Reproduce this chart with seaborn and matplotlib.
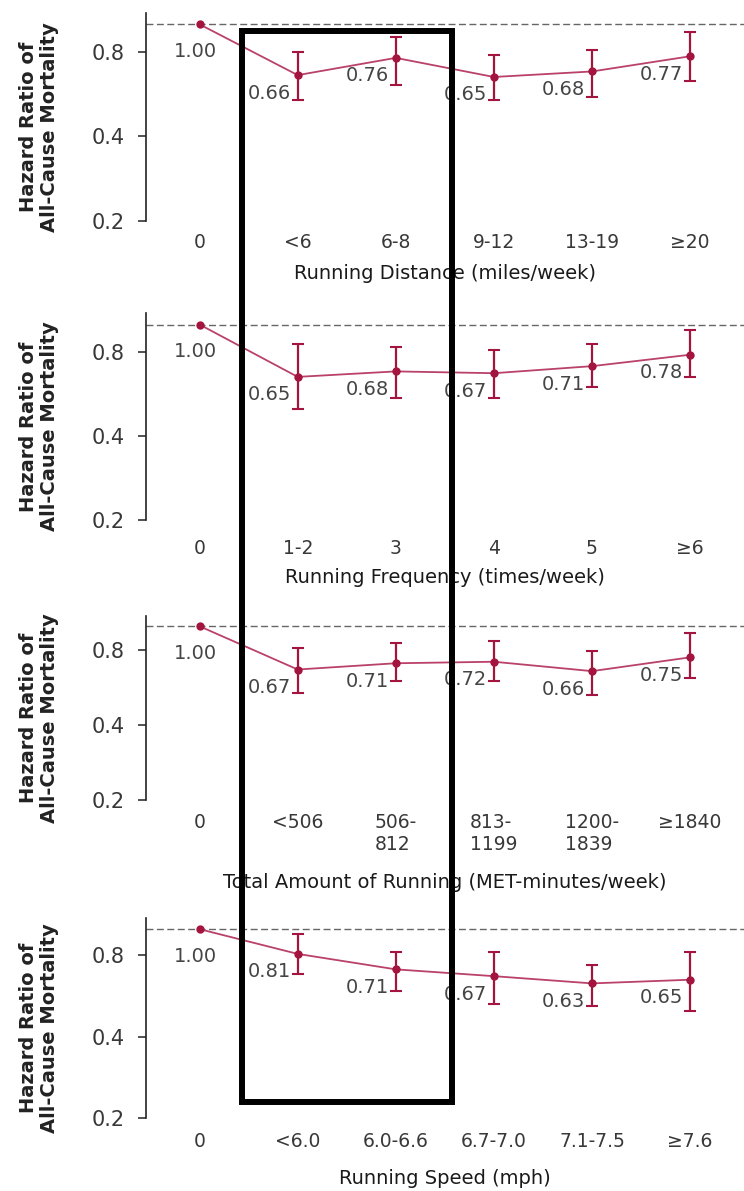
import numpy as np
import pandas as pd
import seaborn as sns
from matplotlib import pyplot as plt
from matplotlib.patches import Rectangle
from matplotlib.ticker import FixedLocator, NullLocator

# --- data (hazard ratio + 95% CI per category) ---
distance_cats = ["0", "<6", "6-8", "9-12", "13-19", "≥20"]
distance_hr = [1.00, 0.66, 0.76, 0.65, 0.68, 0.77]
distance_lo = [np.nan, 0.54, 0.61, 0.54, 0.55, 0.63]
distance_hi = [np.nan, 0.80, 0.90, 0.78, 0.81, 0.94]

frequency_cats = ["0", "1-2", "3", "4", "5", "≥6"]
frequency_hr = [1.00, 0.65, 0.68, 0.67, 0.71, 0.78]
frequency_lo = [np.nan, 0.50, 0.545, 0.545, 0.60, 0.65]
frequency_hi = [np.nan, 0.85, 0.83, 0.81, 0.85, 0.96]

amount_cats = ["0", "<506", "506-\n812", "813-\n1199", "1200-\n1839", "≥1840"]
amount_hr = [1.00, 0.67, 0.71, 0.72, 0.66, 0.75]
amount_lo = [np.nan, 0.54, 0.60, 0.605, 0.53, 0.62]
amount_hi = [np.nan, 0.815, 0.856, 0.87, 0.795, 0.94]

speed_cats = ["0", "<6.0", "6.0-6.6", "6.7-7.0", "7.1-7.5", "≥7.6"]
speed_hr = [1.00, 0.81, 0.71, 0.67, 0.63, 0.65]
speed_lo = [np.nan, 0.68, 0.59, 0.53, 0.52, 0.50]
speed_hi = [np.nan, 0.96, 0.82, 0.82, 0.74, 0.82]

x_labels = [
    "Running Distance (miles/week)",
    "Running Frequency (times/week)",
    "Total Amount of Running (MET-minutes/week)",
    "Running Speed (mph)",
]
y_ticks = [0.2, 0.4, 0.8]
y_tick_labels = ["0.2", "0.4", "0.8"]

LINE_COLOR = "#b9416a"
POINT_COLOR = "#a3143f"

W, H = 744, 1191
AX_LEFT = 145.7


def draw_panel(fig, box, cats, hr, lo, hi, xlabel, tick_pad, label_pad):
    top, bottom = box
    ax = fig.add_axes([AX_LEFT / W, 1 - bottom / H, (W - AX_LEFT) / W, (bottom - top) / H])

    df = pd.DataFrame({"pos": np.arange(len(cats)), "hr": hr, "lo": lo, "hi": hi})

    ax.axhline(1.0, color="#666666", lw=1.0, ls=(0, (5, 2.5)), zorder=1)
    sns.lineplot(
        data=df, x="pos", y="hr", ax=ax, color=LINE_COLOR, lw=1.3,
        marker="o", markersize=6, markerfacecolor=POINT_COLOR,
        markeredgecolor=POINT_COLOR, markeredgewidth=0, zorder=3,
    )
    ci = df.dropna()
    ax.errorbar(
        ci["pos"], ci["hr"],
        yerr=[ci["hr"] - ci["lo"], ci["hi"] - ci["hr"]],
        fmt="none", ecolor=POINT_COLOR, elinewidth=1.6, capsize=4.5, capthick=1.5, zorder=4,
    )

    for _, row in df.iterrows():
        if row["pos"] == 0:
            ax.annotate(f"{row['hr']:.2f}", (row["pos"], row["hr"]), xytext=(-4, -27),
                        textcoords="offset pixels", ha="center", va="center",
                        fontsize=14, color="#454545", zorder=5)
        else:
            ax.annotate(f"{row['hr']:.2f}", (row["pos"], row["hr"]), xytext=(-7, -18),
                        textcoords="offset pixels", ha="right", va="center",
                        fontsize=14, color="#454545", zorder=2)

    ax.set_yscale("log")
    ax.set_ylim(0.2, 1.1)
    ax.set_xlim(-0.55, len(cats) - 0.45)
    ax.yaxis.set_major_locator(FixedLocator(y_ticks))
    ax.yaxis.set_minor_locator(NullLocator())
    ax.set_yticklabels(y_tick_labels)
    ax.set_xticks(df["pos"])
    ax.set_xticklabels(cats, multialignment="left")
    ax.tick_params(axis="x", length=0, pad=tick_pad, labelsize=13.5, labelcolor="#383838")
    ax.tick_params(axis="y", length=6, width=1.1, pad=9, labelsize=15, labelcolor="#383838",
                   color="#222222")
    ax.spines["left"].set_linewidth(1.2)
    ax.spines["left"].set_color("#222222")
    sns.despine(ax=ax, bottom=True)

    ax.set_xlabel(xlabel, fontsize=14, color="#1a1a1a", labelpad=label_pad)
    ax.set_ylabel("")

    center_y = (top + bottom) / 2 + 10
    fig.text(39 / W, 1 - center_y / H, "Hazard Ratio of\nAll-Cause Mortality",
             rotation=90, ha="center", va="center", fontsize=14, fontweight="bold",
             color="#222222", linespacing=1.15,
             family=["Liberation Sans Narrow", "DejaVu Sans"])
    return ax


def main() -> None:
    sns.set_theme(style="ticks")
    plt.rcParams["font.family"] = ["DejaVu Sans"]

    fig = plt.figure(figsize=(W / 100, H / 100), dpi=100)
    fig.patch.set_facecolor("white")

    panels = [
        ((12.7, 221), distance_cats, distance_hr, distance_lo, distance_hi, 9, 8),
        ((313, 520), frequency_cats, frequency_hr, frequency_lo, frequency_hi, 14, 7),
        ((616, 800), amount_cats, amount_hr, amount_lo, amount_hi, 9, 14),
        ((918, 1118), speed_cats, speed_hr, speed_lo, speed_hi, 10, 13),
    ]
    for (box, cats, hr, lo, hi, tick_pad, label_pad), xlabel in zip(panels, x_labels):
        draw_panel(fig, box, cats, hr, lo, hi, xlabel, tick_pad, label_pad)

    # black highlight frame drawn over the figure
    fig.add_artist(Rectangle((241.5 / W, 1 - 1102 / H), 210 / W, 1071 / H,
                             transform=fig.transFigure, fill=False, ec="black",
                             lw=4.3, zorder=10))

    fig.savefig("out.png", dpi=100)
    plt.close(fig)


if __name__ == "__main__":
    main()
